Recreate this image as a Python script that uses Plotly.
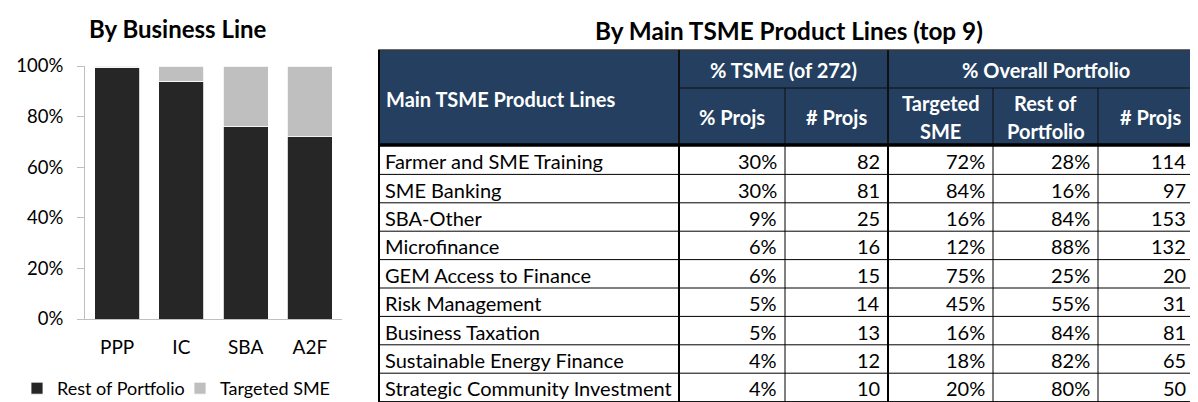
import plotly.graph_objects as go

# ---------------- data ----------------
business_lines = ["PPP", "IC", "SBA", "A2F"]
rest_of_portfolio = [0.995, 0.94, 0.76, 0.72]
targeted_sme = [0.005, 0.06, 0.24, 0.28]

product_lines = [
    "Farmer and SME Training", "SME Banking", "SBA-Other", "Microfinance",
    "GEM Access to Finance", "Risk Management", "Business Taxation",
    "Sustainable Energy Finance", "Strategic Community Investment",
]
tsme_pct_projs = ["30%", "30%", "9%", "6%", "6%", "5%", "5%", "4%", "4%"]
tsme_num_projs = [82, 81, 25, 16, 15, 14, 13, 12, 10]
overall_targeted = ["72%", "84%", "16%", "12%", "75%", "45%", "16%", "18%", "20%"]
overall_rest = ["28%", "16%", "84%", "88%", "25%", "55%", "84%", "82%", "80%"]
overall_num_projs = [114, 97, 153, 132, 20, 31, 81, 65, 50]

# ---------------- layout constants ----------------
W, H = 1198, 402
OFF = 8                      # page offset of the figure inside the browser window
FONT = "Lato"
NAVY = "#243F60"
BLACK_BAR = "#262626"
GRAY_BAR = "#BFBFBF"
AXIS_GRAY = "#BFBFBF"

def px_x(sx):   # screen x -> paper fraction
    return (sx - OFF) / W

def px_y(sy):   # screen y -> paper fraction
    return 1 - (sy - OFF) / H

fig = go.Figure()

fig.add_trace(go.Bar(x=business_lines, y=rest_of_portfolio, name="Rest of Portfolio",
                     marker=dict(color=BLACK_BAR, line=dict(color="white", width=0.8)),
                     width=0.7))
fig.add_trace(go.Bar(x=business_lines, y=targeted_sme, name="Targeted SME",
                     marker=dict(color=GRAY_BAR, line=dict(color="white", width=0.8)),
                     width=0.7))

# invisible helper trace for the screen-pixel axes used by the table
fig.add_trace(go.Scatter(x=[OFF, W + OFF], y=[OFF, H + OFF], xaxis="x2", yaxis="y2",
                         mode="markers", marker=dict(opacity=0), showlegend=False,
                         hoverinfo="skip"))

plot_left, plot_right = 85, 342
y0_px, y100_px = 319, 66

shapes = []
annotations = []

# ---------------- table geometry (screen px) ----------------
cols_x = [379, 679, 785, 888, 993, 1098, 1203]
last_col_text_right = 1188
header_top, header_mid, header_bot = 50, 88, 145
body_top = 146
row_h = 28.4
n_rows = len(product_lines)
body_bot = body_top + n_rows * row_h

shapes.append(dict(type="rect", xref="x2", yref="y2", x0=cols_x[0], x1=cols_x[-1] + 5,
                   y0=header_top, y1=header_bot, fillcolor=NAVY,
                   line=dict(color="#3a3a3a", width=1.5)))

def vline(x, ya, yb, w, color="black"):
    shapes.append(dict(type="line", xref="x2", yref="y2", x0=x, x1=x, y0=ya, y1=yb,
                       line=dict(color=color, width=w)))

def hline(y, xa, xb, w, color="black"):
    shapes.append(dict(type="line", xref="x2", yref="y2", x0=xa, x1=xb, y0=y, y1=y,
                       line=dict(color=color, width=w)))

# header inner lines
vline(cols_x[1], header_top, header_bot, 2, "#111111")
vline(cols_x[3], header_top, header_bot, 2, "#111111")
for cx in (cols_x[2], cols_x[4], cols_x[5]):
    vline(cx, header_mid, header_bot, 1, "#111111")
hline(header_mid, cols_x[1], cols_x[-1] + 5, 1, "#111111")

# body grid
vline(cols_x[0], header_top, body_bot + 5, 2)
vline(cols_x[1], header_bot, body_bot + 5, 2)
vline(cols_x[2], header_bot, body_bot + 5, 1)
vline(cols_x[3], header_bot, body_bot + 5, 2)
vline(cols_x[4], header_bot, body_bot + 5, 1)
vline(cols_x[5], header_bot, body_bot + 5, 1)
for k in range(1, n_rows + 1):
    hline(body_top + k * row_h, cols_x[0], cols_x[-1] + 5, 1)
hline(header_bot, cols_x[0], cols_x[-1] + 5, 3.5)

# header text
hdr_font = dict(family=FONT, size=20, color="white")
def hdr(text, x, y, xanchor="center"):
    annotations.append(dict(text="<b>" + text + "</b>", x=x, y=y, xref="x2", yref="y2",
                            xanchor=xanchor, yanchor="middle", showarrow=False,
                            font=hdr_font, align="center"))

hdr("Main TSME Product Lines", 384, 99, "left")
hdr("% TSME (of 272)", (cols_x[1] + cols_x[3]) / 2, 70)
hdr("% Overall Portfolio", (cols_x[3] + cols_x[6]) / 2, 70)
hdr("% Projs", (cols_x[1] + cols_x[2]) / 2, 117)
hdr("# Projs", (cols_x[2] + cols_x[3]) / 2, 117)
hdr("Targeted", (cols_x[3] + cols_x[4]) / 2, 103)
hdr("SME", (cols_x[3] + cols_x[4]) / 2, 131)
hdr("Rest of", (cols_x[4] + cols_x[5]) / 2, 103)
hdr("Portfolio", (cols_x[4] + cols_x[5]) / 2, 131)
hdr("# Projs", (cols_x[5] + cols_x[6]) / 2, 117)

# body text
body_font = dict(family=FONT, size=20, color="black")
columns = [tsme_pct_projs, tsme_num_projs, overall_targeted, overall_rest, overall_num_projs]
for i in range(n_rows):
    yc = body_top + (i + 0.5) * row_h + 1
    annotations.append(dict(text=product_lines[i], x=383, y=yc, xref="x2", yref="y2",
                            xanchor="left", yanchor="middle", showarrow=False, font=body_font))
    for j, col in enumerate(columns):
        right = cols_x[j + 2] - 6 if j < 4 else last_col_text_right
        annotations.append(dict(text=str(col[i]), x=right, y=yc, xref="x2", yref="y2",
                                xanchor="right", yanchor="middle", showarrow=False,
                                font=body_font))

# titles
annotations.append(dict(text="<b>By Business Line</b>", x=178, y=28, xref="x2", yref="y2",
                        xanchor="center", yanchor="middle", showarrow=False,
                        font=dict(family=FONT, size=24, color="black")))
annotations.append(dict(text="<b>By Main TSME Product Lines (top 9)</b>", x=789, y=30,
                        xref="x2", yref="y2", xanchor="center", yanchor="middle",
                        showarrow=False, font=dict(family=FONT, size=24.3, color="black")))

# x-axis category divider ticks
for k in range(len(business_lines) + 1):
    shapes.append(dict(type="line", xref="x", yref="y", x0=k - 0.5, x1=k - 0.5,
                       y0=0, y1=-0.025, line=dict(color=AXIS_GRAY, width=1)))

fig.update_layout(
    width=W, height=H,
    margin=dict(l=0, r=0, t=0, b=0, autoexpand=False),
    paper_bgcolor="white", plot_bgcolor="rgba(0,0,0,0)",
    barmode="stack",
    font=dict(family=FONT, size=18, color="black"),
    xaxis=dict(domain=[px_x(plot_left), px_x(plot_right)], anchor="y",
               range=[-0.5, len(business_lines) - 0.5],
               showline=True, linecolor=AXIS_GRAY, linewidth=1,
               ticks="", tickfont=dict(size=19), ticklabelstandoff=11,
               showgrid=False, fixedrange=True, automargin=False),
    yaxis=dict(domain=[px_y(y0_px), px_y(y100_px)], anchor="x",
               range=[0, 1], tickformat=".0%", dtick=0.2,
               showline=True, linecolor=AXIS_GRAY, linewidth=1,
               ticks="outside", ticklen=7, tickcolor=AXIS_GRAY,
               showgrid=False, zeroline=False, tickfont=dict(size=18.5),
               ticklabelstandoff=10,
               fixedrange=True, automargin=False),
    xaxis2=dict(domain=[0, 1], range=[OFF, W + OFF], anchor="y2", visible=False,
                fixedrange=True, automargin=False),
    yaxis2=dict(domain=[0, 1], range=[H + OFF, OFF], anchor="x2", visible=False,
                fixedrange=True, automargin=False),
    legend=dict(orientation="h", x=px_x(17), y=px_y(370), xanchor="left", yanchor="top",
                font=dict(size=18), traceorder="normal", bgcolor="rgba(0,0,0,0)",
                itemwidth=30, entrywidth=118, entrywidthmode="pixels"),
    shapes=shapes,
    annotations=annotations,
    showlegend=True,
)

fig.write_html("out.html")
